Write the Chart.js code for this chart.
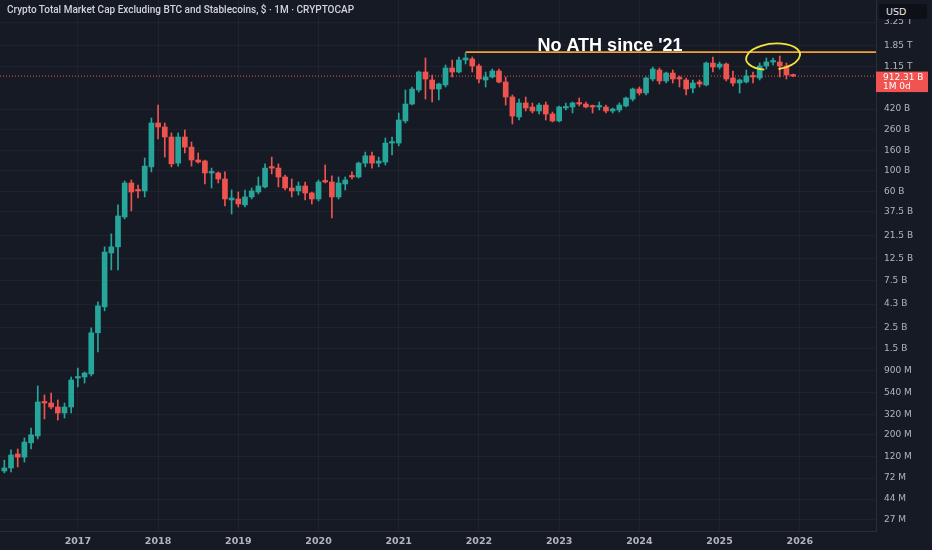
<!DOCTYPE html>
<html>
<head>
<meta charset="utf-8">
<script src="https://cdn.jsdelivr.net/npm/chart.js@4.4.1/dist/chart.umd.min.js"></script>
<style>
html,body{margin:0;padding:0;background:#161a25;overflow:hidden;}
#wrap{position:relative;width:932px;height:550px;}
#c{position:absolute;left:0;top:0;}
#title{position:absolute;left:7px;top:4px;font:500 10px Roboto,"DejaVu Sans",sans-serif;color:#d1d4dc;white-space:nowrap;}
#usd{position:absolute;left:879px;top:4px;width:48px;height:15px;background:#0e1017;color:#e8e9ed;font:9.5px "DejaVu Sans",sans-serif;line-height:15px;padding-left:7px;box-sizing:border-box;border-radius:2px;}
</style>
</head>
<body>
<div id="wrap">
<canvas id="c" width="932" height="550"></canvas>
<div id="title">Crypto Total Market Cap Excluding BTC and Stablecoins, $ · 1M · CRYPTOCAP</div>
<div id="usd">USD</div>
</div>
<script>
// Monthly candles, Feb 2016 .. Dec 2025, values in billions of USD
const firstMonth = {year: 2016, month: 2};
const opens = [
0.0852,0.0915,0.127,0.118,0.165,0.194,0.431,0.421,0.383,0.333,0.383,
0.757,0.775,0.832,2.19,4.03,14.3,16.5,33.3,74.0,62.8,61.4,108,
303,276,218,118,218,172,127,124,93.6,93.6,81.3,49.7,
50.8,44.2,53.3,59.9,67.4,108,105,85.2,65.8,61.4,69.0,58.5,
50.8,77.6,75.8,53.3,72.3,87.3,85.2,118,140,118,121,189,
189,318,473,658,1004,832,673,740,1103,1004,1331,1363,
1156,832,893,1028,794,558,349,485,441,402,462,374,
318,431,441,485,473,452,441,441,402,411,452,532,
673,613,852,1052,813,980,872,832,689,794,740,1240,
1129,1211,872,775,794,914,872,1156,1270,1270,1156,936
];
const highs = [
0.110,0.140,0.143,0.185,0.234,0.628,0.508,0.532,0.452,0.421,0.775,
0.958,0.872,2.46,4.54,16.5,22.4,44.2,77.6,79.4,70.6,133,341,
462,303,240,240,257,194,150,127,105,95.9,95.9,62.8,
59.9,62.8,65.8,85.2,116,136,116,89.3,81.3,75.8,75.8,59.9,
79.4,113,87.3,85.2,85.2,95.9,121,153,153,136,213,218,
383,658,706,1028,1395,936,775,1183,1331,1428,1569,1428,
1211,1004,1077,1077,893,585,532,558,485,485,496,392,
452,485,496,545,496,462,496,462,431,485,558,689,
706,893,1129,1103,1004,1052,914,872,832,832,1270,1428,
1270,1240,1028,852,1052,1004,1240,1395,1395,1462,1240,958
];
const lows = [
0.0813,0.0832,0.0937,0.105,0.143,0.181,0.289,0.366,0.282,0.296,0.333,
0.613,0.673,0.794,1.40,3.67,9.6,9.6,31.8,38.4,52.0,53.3,95.9,
208,136,108,110,150,110,118,72.3,65.8,74.0,43.1,35.7,
42.1,42.1,50.8,57.2,65.8,91.5,67.4,62.8,53.3,55.8,49.7,45.2,
48.5,74.0,32.5,50.8,62.8,81.3,83.2,108,105,108,113,143,
177,303,462,627,532,496,520,706,893,980,1211,1004,
775,706,872,775,462,296,325,402,383,374,325,310,
310,411,383,452,431,383,411,383,383,392,441,508,
585,585,813,757,775,775,706,585,613,706,722,1004,
1077,813,722,613,775,775,832,1077,1183,893,852,900
];
const closes = [
0.0915,0.124,0.118,0.168,0.199,0.431,0.421,0.383,0.333,0.383,0.722,
0.775,0.852,2.19,4.13,14.6,16.5,34.1,74.0,59.9,61.4,110,303,
276,218,116,218,172,127,121,93.6,95.9,81.3,50.8,52.0,
45.2,53.3,61.4,69.0,105,105,85.2,65.8,61.4,69.0,58.5,50.8,
75.8,75.8,53.3,74.0,79.4,85.2,118,140,118,124,189,194,
325,473,673,1004,852,673,757,1103,1004,1331,1395,1156,
852,893,1028,794,558,357,485,431,402,462,374,318,
441,441,485,473,441,441,452,402,421,462,545,673,
613,872,1077,813,980,852,852,673,775,757,1240,1129,
1211,852,775,832,914,893,1156,1270,1300,1156,936,912.31
];
const yTickValues = [3250,1850,1150,420,260,160,100,60,37.5,21.5,12.5,7.5,4.3,2.5,1.5,0.9,0.54,0.32,0.2,0.12,0.072,0.044,0.027];
const yTickLabels = ['3.25 T','1.85 T','1.15 T','420 B','260 B','160 B','100 B','60 B','37.5 B','21.5 B','12.5 B','7.5 B','4.3 B','2.5 B','1.5 B','900 M','540 M','320 M','200 M','120 M','72 M','44 M','27 M'];
const yearTicks = [2017,2018,2019,2020,2021,2022,2023,2024,2025,2026];
const athLevel = 1600;           // "No ATH since '21" line
const athStart = {year: 2021, month: 11};
const currentPrice = 912.31;
const priceLabel = '912.31 B';
const priceSub = '1M 0d';
const noteText = "No ATH since '21";

const BASE_YEAR = 2016;
const monthIndex = (y, m) => (y - BASE_YEAR) * 12 + (m - 1);
const startIdx = monthIndex(firstMonth.year, firstMonth.month);
const xIdx = opens.map((_, i) => startIdx + i);
const X_MIN = 0.35, X_MAX = 131.4;
const Y_MIN = 0.0208, Y_MAX = 5450;

const UP = '#26a69a', DOWN = '#ef5350';
const colors = closes.map((c, i) => c >= opens[i] ? UP : DOWN);

const bgPlugin = {
  id: 'bg',
  beforeDraw(chart) {
    const ctx = chart.ctx;
    ctx.save();
    ctx.fillStyle = '#161a25';
    ctx.fillRect(0, 0, chart.width, chart.height);
    ctx.restore();
  }
};

const overlayPlugin = {
  id: 'overlay',
  afterDraw(chart) {
    const {ctx, chartArea} = chart;
    const x = chart.scales.x, y = chart.scales.y;
    ctx.save();
    ctx.font = 'bold 18px "Liberation Sans", Arial, sans-serif';
    ctx.fillStyle = '#ffffff';
    ctx.textAlign = 'center';
    ctx.textBaseline = 'alphabetic';
    ctx.fillText(noteText, x.getPixelForValue(91.6), y.getPixelForValue(athLevel) - 1.5);
    const cx = x.getPixelForValue(116), cy = y.getPixelForValue(1440);
    ctx.strokeStyle = '#f3e33c';
    ctx.lineWidth = 1.8;
    ctx.beginPath();
    ctx.ellipse(cx, cy, 27, 13, -0.1, 0.62 * Math.PI, 2.45 * Math.PI);
    ctx.stroke();
    const py = y.getPixelForValue(currentPrice);
    ctx.fillStyle = '#f05350';
    ctx.fillRect(chartArea.right, py - 4.5, 52, 20.5);
    ctx.fillStyle = '#ffffff';
    ctx.font = '9px "DejaVu Sans", sans-serif';
    ctx.textAlign = 'left';
    ctx.textBaseline = 'middle';
    ctx.fillText(priceLabel, chartArea.right + 7, py + 1.5);
    ctx.fillText(priceSub, chartArea.right + 7, py + 10.5);
    ctx.restore();
  }
};

new Chart(document.getElementById('c'), {
  type: 'bar',
  data: {
    datasets: [
      {
        type: 'line', label: 'price',
        data: [{x: X_MIN, y: currentPrice}, {x: X_MAX, y: currentPrice}],
        borderColor: '#ef5350', borderWidth: 1, borderDash: [1, 2],
        pointRadius: 0, order: 3
      },
      {
        type: 'bar', label: 'wick',
        data: xIdx.map((v, i) => ({x: v, y: [lows[i], highs[i]]})),
        backgroundColor: colors, barThickness: 1, grouped: false, order: 2
      },
      {
        type: 'bar', label: 'body',
        data: xIdx.map((v, i) => ({x: v, y: [opens[i], closes[i]]})),
        backgroundColor: colors, barThickness: 5, minBarLength: 1.5, grouped: false, order: 1
      },
      {
        type: 'line', label: 'ath',
        data: [{x: monthIndex(athStart.year, athStart.month), y: athLevel}, {x: X_MAX, y: athLevel}],
        borderColor: '#f0a234', borderWidth: 1.6, pointRadius: 0, order: 0
      }
    ]
  },
  options: {
    responsive: false,
    animation: false,
    layout: {padding: 0},
    plugins: {legend: {display: false}, tooltip: {enabled: false}},
    scales: {
      x: {
        type: 'linear', min: X_MIN, max: X_MAX, bounds: 'data', offset: false,
        grid: {color: 'rgba(255,255,255,0.04)', drawTicks: false, offset: false},
        border: {color: '#2a2e39'},
        ticks: {
          color: '#b2b5be', font: {family: 'DejaVu Sans', size: 9.5, weight: 'bold'},
          padding: 5, maxRotation: 0, autoSkip: false,
          callback: v => String(BASE_YEAR + Math.round(v / 12))
        },
        afterBuildTicks: s => { s.ticks = yearTicks.map(yr => ({value: monthIndex(yr, 1)})); },
        afterFit: s => { s.height = 19; s.paddingLeft = 0; s.paddingRight = 0; }
      },
      y: {
        type: 'logarithmic', position: 'right', min: Y_MIN, max: Y_MAX, bounds: 'data',
        grid: {color: 'rgba(255,255,255,0.04)', drawTicks: false},
        border: {color: '#2a2e39'},
        ticks: {
          color: '#b2b5be', font: {family: 'DejaVu Sans', size: 9},
          padding: 8, autoSkip: false,
          callback: (v, i) => yTickLabels[i]
        },
        afterBuildTicks: s => { s.ticks = yTickValues.map(v => ({value: v})); },
        afterFit: s => { s.width = 56; s.paddingTop = 0; s.paddingBottom = 0; }
      }
    }
  },
  plugins: [bgPlugin, overlayPlugin]
});
</script>
</body>
</html>
